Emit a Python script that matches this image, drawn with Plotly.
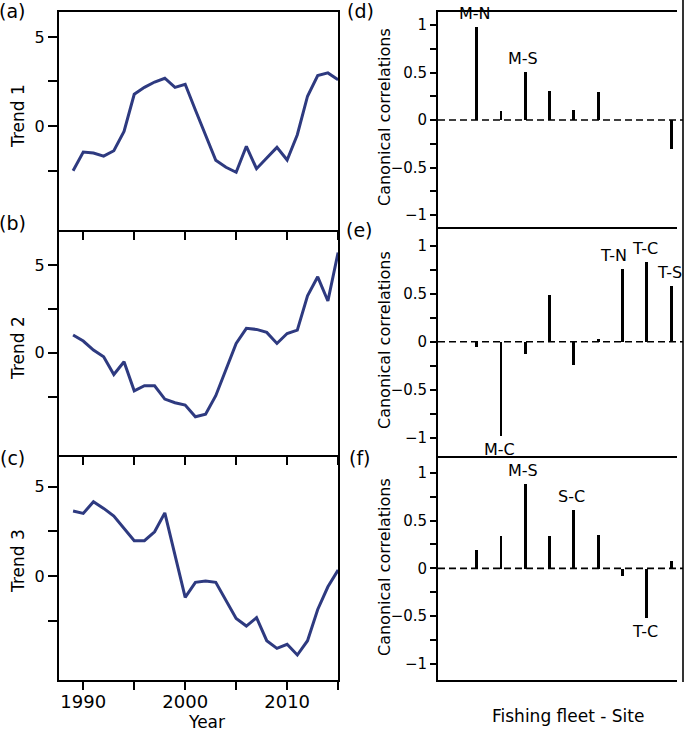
import plotly.graph_objects as go

# ---------------- data ----------------
years = list(range(1989, 2016))
trend1 = [-2.51, -1.46, -1.52, -1.69, -1.39, -0.30, 1.78, 2.17, 2.47, 2.68, 2.17, 2.34,
          0.90, -0.50, -1.93, -2.32, -2.60, -1.14, -2.40, -1.80, -1.20, -1.91, -0.49,
          1.67, 2.83, 2.98, 2.60]
trend2 = [1.01, 0.67, 0.15, -0.23, -1.24, -0.51, -2.17, -1.88, -1.88, -2.64, -2.85, -2.98,
          -3.65, -3.50, -2.45, -0.99, 0.53, 1.39, 1.33, 1.16, 0.53, 1.10, 1.29, 3.25, 4.33,
          2.95, 5.72]
trend3 = [3.64, 3.51, 4.16, 3.79, 3.36, 2.67, 1.98, 1.98, 2.48, 3.54, 1.20, -1.19, -0.35,
          -0.28, -0.35, -1.40, -2.37, -2.80, -2.33, -3.62, -4.05, -3.82, -4.42, -3.62,
          -1.87, -0.60, 0.34]

fleet_site = ["M-N", "M-C", "M-S", "S-N", "S-C", "S-S", "T-N", "T-C", "T-S"]
corr_d = [0.975, 0.09, 0.51, 0.31, 0.11, 0.29, 0.0, 0.0, -0.30]
corr_e = [-0.05, -0.98, -0.12, 0.49, -0.24, 0.03, 0.76, 0.83, 0.58]
corr_f = [0.19, 0.34, 0.88, 0.34, 0.61, 0.355, -0.08, -0.52, 0.077]
labels_d = ["M-N", "M-S"]
labels_e = ["M-C", "T-N", "T-C", "T-S"]
labels_f = ["M-S", "S-C", "T-C"]

year_ticks = [1990, 1995, 2000, 2005, 2010, 2015]
year_ticktext = ["1990", "", "2000", "", "2010", ""]
trend_ticks = [-2.5, 0, 2.5, 5]
trend_ticktext = ["", "0", "", "5"]
corr_ticks = [-1, -0.75, -0.5, -0.25, 0, 0.25, 0.5, 0.75, 1]
corr_ticktext = ["\u22121", "", "\u22120.5", "", "0", "", "0.5", "", "1"]

# ---------------- layout helpers ----------------
W, H = 685, 732
FONT = "DejaVu Sans"
LINE = "#2E3A80"


def px_x(p):
    return p / W


def px_y(p):
    return 1 - p / H


fig = go.Figure()

left_dom_x = [px_x(59), px_x(338.3)]
right_dom_x = [px_x(438), px_x(677)]
left_panels = [
    (trend1, [px_y(230), px_y(12)], [-5.84, 6.40], "Trend 1", 116),
    (trend2, [px_y(455), px_y(230)], [-5.83, 7.0], "Trend 2", 348),
    (trend3, [px_y(680), px_y(455)], [-5.82, 6.78], "Trend 3", 561),
]
right_panels = [
    (corr_d, labels_d, [px_y(226.7), px_y(12)], [-1.123, 1.137], 117),
    (corr_e, labels_e, [px_y(455.7), px_y(226.7)], [-1.1875, 1.198], 340),
    (corr_f, labels_f, [px_y(680), px_y(455.7)], [-1.168, 1.178], 567),
]

annotations = []
shapes = []

for i, (vals, ydom, yrng, title, ycen) in enumerate(left_panels):
    n = i + 1
    xa = "x" if n == 1 else f"x{n}"
    ya = "y" if n == 1 else f"y{n}"
    fig.add_trace(go.Scatter(x=years, y=vals, mode="lines",
                             line=dict(color=LINE, width=3),
                             xaxis=xa, yaxis=ya, showlegend=False, cliponaxis=True))
    last = (n == 3)
    fig.layout[f"xaxis{'' if n == 1 else n}"] = dict(
        domain=left_dom_x, range=[1987.62, 2015.02], anchor=ya,
        showline=True, linecolor="black", linewidth=2, mirror=(n == 1),
        ticks="outside", ticklen=8, tickwidth=1.8, tickcolor="black",
        tickvals=year_ticks, ticktext=year_ticktext, showticklabels=last,
        ticklabelstandoff=-4,
        tickfont=dict(family=FONT, size=18, color="black"),
        showgrid=False, zeroline=False)
    fig.layout[f"yaxis{'' if n == 1 else n}"] = dict(
        domain=ydom, range=yrng, anchor=xa,
        showline=True, linecolor="black", linewidth=2, mirror=True,
        ticks="outside", ticklen=9, tickwidth=1.8, tickcolor="black",
        tickvals=trend_ticks, ticktext=trend_ticktext,
        tickfont=dict(family=FONT, size=16, color="black"),
        showgrid=False, zeroline=False)
    annotations.append(dict(text=title, x=px_x(18), y=px_y(ycen), xref="paper", yref="paper",
                            textangle=-90, showarrow=False, xanchor="center", yanchor="middle",
                            font=dict(family=FONT, size=17, color="black")))

for i, (vals, labs, ydom, yrng, ycen) in enumerate(right_panels):
    n = i + 4
    xa, ya = f"x{n}", f"y{n}"
    fig.add_trace(go.Bar(x=fleet_site, y=vals, width=0.12,
                         marker=dict(color="black", line=dict(width=0)),
                         xaxis=xa, yaxis=ya, showlegend=False))
    fig.layout[f"xaxis{n}"] = dict(
        domain=right_dom_x, range=[-1.593, 8.24], anchor=ya,
        type="category", categoryorder="array", categoryarray=fleet_site,
        showline=True, linecolor="black", linewidth=1.8, mirror=(n == 4),
        ticks="", showticklabels=False, showgrid=False, zeroline=False)
    fig.layout[f"yaxis{n}"] = dict(
        domain=ydom, range=yrng, anchor=xa,
        showline=True, linecolor="black", linewidth=1.8, mirror=False,
        ticks="outside", ticklen=6, tickwidth=1.5, tickcolor="black",
        tickvals=corr_ticks, ticktext=corr_ticktext,
        tickfont=dict(family=FONT, size=15, color="black"),
        showgrid=False, zeroline=False)
    shapes.append(dict(type="line", xref="paper", yref=ya, x0=px_x(438), x1=px_x(683),
                       y0=0, y1=0, line=dict(color="black", width=1.6, dash="7px,4px"),
                       layer="below"))
    annotations.append(dict(text="Canonical correlations", x=px_x(384), y=px_y(ycen),
                            xref="paper", yref="paper", textangle=-90, showarrow=False,
                            xanchor="center", yanchor="middle",
                            font=dict(family=FONT, size=16, color="black")))
    for lab in labs:
        v = vals[fleet_site.index(lab)]
        annotations.append(dict(text=lab, x=lab, y=v, xref=xa, yref=ya, showarrow=False,
                                xanchor="center",
                                yanchor="bottom" if v > 0 else "top",
                                yshift=2 if v > 0 else -2,
                                xshift=-9 if lab == "T-N" else -2,
                                font=dict(family=FONT, size=16, color="black")))

# right frame line spanning the whole right column
shapes.append(dict(type="line", xref="paper", yref="paper", x0=px_x(683), x1=px_x(683),
                   y0=px_y(682), y1=1, line=dict(color="black", width=1.6)))

# panel letters
for letter, xp, yp in [("(a)", 12.5, 11), ("(b)", 12.5, 223), ("(c)", 12.5, 458),
                       ("(d)", 360, 11), ("(e)", 359, 230.5), ("(f)", 360, 457.5)]:
    annotations.append(dict(text=letter, x=px_x(xp), y=px_y(yp), xref="paper", yref="paper",
                            showarrow=False, xanchor="center", yanchor="middle",
                            font=dict(family=FONT, size=19, color="black")))

annotations.append(dict(text="Year", x=px_x(206), y=px_y(722), xref="paper", yref="paper",
                        showarrow=False, xanchor="center", yanchor="middle",
                        font=dict(family=FONT, size=17, color="black")))
annotations.append(dict(text="Fishing fleet - Site", x=px_x(568), y=px_y(716), xref="paper",
                        yref="paper", showarrow=False, xanchor="center", yanchor="middle",
                        font=dict(family=FONT, size=17, color="black")))

fig.update_layout(width=W, height=H, margin=dict(l=0, r=0, t=0, b=0),
                  paper_bgcolor="white", plot_bgcolor="white",
                  annotations=annotations, shapes=shapes, bargap=0,
                  font=dict(family=FONT, color="black"))

fig.write_html("out.html", config={"displayModeBar": False},
               post_script="document.body.style.margin='0';document.body.style.overflow='hidden';")
